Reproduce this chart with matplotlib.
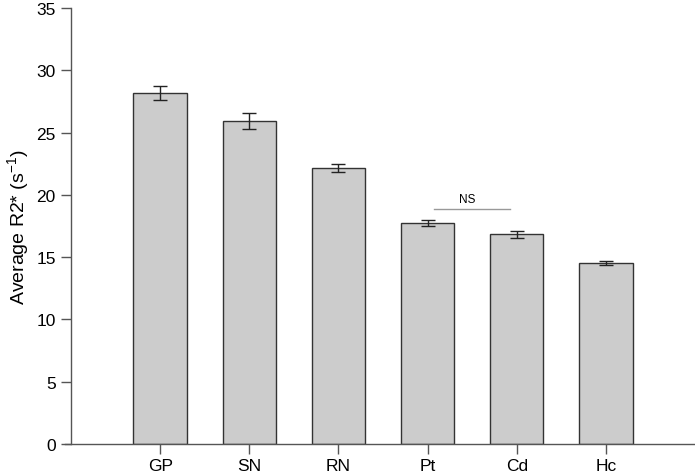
import matplotlib.pyplot as plt

plt.rcParams['font.family'] = ['Liberation Sans', 'DejaVu Sans']

# Data
regions = ['GP', 'SN', 'RN', 'Pt', 'Cd', 'Hc']
mean_r2 = [28.2, 25.9, 22.15, 17.75, 16.82, 14.5]
sem_r2 = [0.55, 0.65, 0.32, 0.25, 0.3, 0.17]

fig = plt.figure(figsize=(6.95, 4.77), dpi=100)
ax = fig.add_axes([71 / 695, 1 - 445 / 477, 624 / 695, 436 / 477])

x = list(range(len(regions)))
ax.bar(x, mean_r2, width=0.6, color='#cccccc', edgecolor='#333333', linewidth=1.0,
       zorder=2)
ax.errorbar(x, mean_r2, yerr=sem_r2, fmt='none', ecolor='#222222', elinewidth=1.0,
            capsize=5, capthick=1.0, zorder=3)

# not-significant bracket between Pt and Cd
ax.plot([3.07, 3.93], [18.83, 18.83], color='#999999', linewidth=1.0)
ax.text(3.45, 19.15, 'NS', ha='center', va='bottom', fontsize=8.5)

ax.set_xlim(-1, 6)
ax.set_ylim(0, 35)
ax.set_yticks(range(0, 36, 5))
ax.set_xticks(x)
ax.set_xticklabels(regions)

for side in ['top', 'right']:
    ax.spines[side].set_visible(False)
for side in ['left', 'bottom']:
    ax.spines[side].set_color('#555555')
    ax.spines[side].set_linewidth(1.0)
# x axis line runs a little past the y axis on the left
ax.spines['bottom'].set_bounds(-1.07, 6)

ax.tick_params(axis='both', direction='out', length=7, width=1.0, color='#555555',
               labelsize=12.5, pad=4)
ax.tick_params(axis='x', pad=3)

ax.set_ylabel('Average R2* (s$^{\\mathregular{-1}}$)', fontsize=14, labelpad=3)

plt.savefig('out.png', dpi=100)
